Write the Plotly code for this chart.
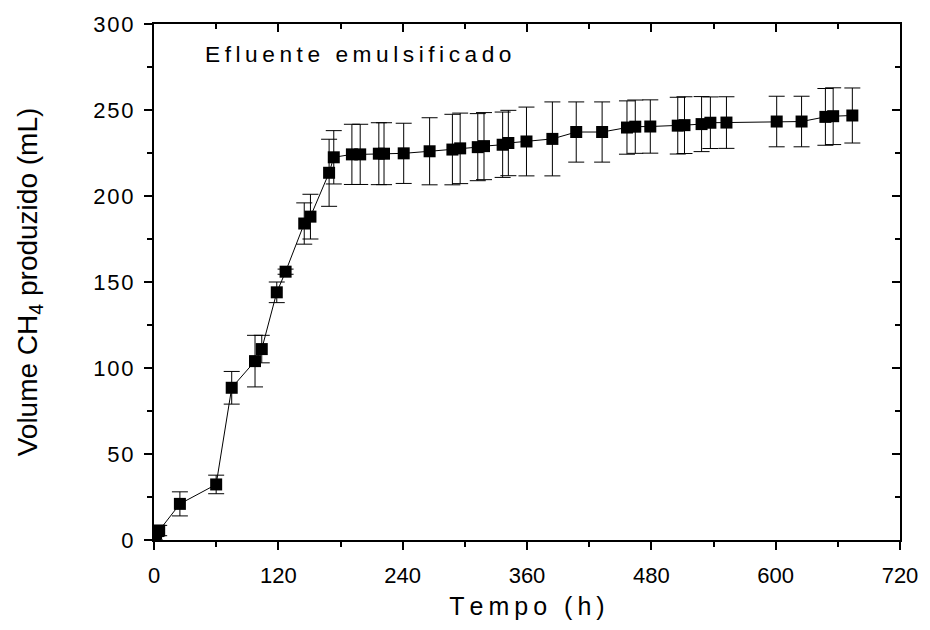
import plotly.graph_objects as go

# Cumulative methane production (mL) over time (h), mean ± standard deviation
tempo_h = [0, 1, 2, 5, 25, 60, 75, 97.5, 104, 118.5, 127, 145, 151, 169, 173.5,
           191, 199, 217, 222, 241, 266, 288, 295.5, 312.5, 318.5, 336.5, 342,
           359.5, 384.5, 407.5, 432.5, 456.5, 464.5, 479, 505.5, 512, 528.5,
           537, 552.5, 601, 625, 648, 655.5, 674]
volume_ch4 = [0, 1, 4, 5.5, 21, 32.3, 88.5, 104, 111, 144, 156, 184, 188, 213.5,
              222.5, 224.2, 224.2, 224.6, 224.6, 224.8, 226, 227, 227.7, 228.4,
              229, 229.8, 230.8, 231.7, 233.2, 237.2, 237.2, 239.8, 240.3, 240.4,
              240.9, 241.2, 241.8, 242.6, 242.7, 243.3, 243.3, 246, 246.4, 246.8]
desvio = [0.5, 1, 2, 3, 7, 5.4, 9.5, 15, 8, 6, 1.5, 12, 13, 19.5, 15.5,
          17.5, 17.5, 18, 18, 17.5, 19.5, 20.5, 20.5, 19.5, 19.5, 19, 19, 20,
          21.5, 17.5, 17.5, 15.5, 15.5, 15.5, 16.5, 16.5, 16, 15, 15, 14.7,
          14.7, 16.5, 16.5, 16]

x_ticks = [0, 120, 240, 360, 480, 600, 720]
y_ticks = [0, 50, 100, 150, 200, 250, 300]

FONT = "Liberation Sans, Arial, sans-serif"
THIN = "\u2009"
HAIR = "\u200a"


def spaced(s, gap=THIN):
    """Open up the letter spacing with narrow spaces between characters."""
    return gap.join(s)


fig = go.Figure()
fig.add_trace(go.Scatter(
    x=tempo_h, y=volume_ch4,
    mode="lines+markers",
    line=dict(color="black", width=1),
    marker=dict(symbol="square", size=12, color="black"),
    error_y=dict(type="data", array=desvio, visible=True,
                 color="black", thickness=1, width=8),
    showlegend=False,
))
# invisible trace to activate the mirrored axes (top / right, inward ticks)
fig.add_trace(go.Scatter(x=[0], y=[0], xaxis="x2", yaxis="y2",
                         mode="markers", marker=dict(opacity=0),
                         showlegend=False, hoverinfo="skip"))

axis_common = dict(showgrid=False, zeroline=False, showline=True,
                   linecolor="black", linewidth=2, ticklen=8, tickwidth=1.5,
                   tickcolor="black")

fig.update_layout(
    width=930, height=630,
    margin=dict(l=154, r=27, t=23, b=90),
    plot_bgcolor="white", paper_bgcolor="white",
    font=dict(family=FONT, color="black"),
    xaxis=dict(range=[0, 720], tickvals=x_ticks,
               ticktext=[str(v) for v in x_ticks], ticks="outside",
               tickfont=dict(size=22), ticklabelstandoff=7,
               title=dict(text=spaced("Tempo (h)"), font=dict(size=25),
                          standoff=10),
               minor=dict(dtick=60, ticks="outside", ticklen=5,
                          tickcolor="black", tickwidth=1.5),
               **axis_common),
    yaxis=dict(range=[0, 300], tickvals=y_ticks,
               ticktext=[spaced(str(v), HAIR) for v in y_ticks],
               ticks="outside", tickfont=dict(size=22), ticklabelstandoff=6,
               title=dict(text="Volume CH<sub>4</sub> produzido (mL)",
                          font=dict(size=28), standoff=47),
               minor=dict(dtick=25, ticks="outside", ticklen=5,
                          tickcolor="black", tickwidth=1.5),
               **axis_common),
    xaxis2=dict(range=[0, 720], overlaying="x", side="top",
                tickvals=x_ticks, ticks="inside", showticklabels=False,
                minor=dict(dtick=60, ticks="inside", ticklen=5,
                           tickcolor="black", tickwidth=1.5),
                **axis_common),
    yaxis2=dict(range=[0, 300], overlaying="y", side="right",
                tickvals=y_ticks, ticks="inside", showticklabels=False,
                minor=dict(dtick=25, ticks="inside", ticklen=5,
                           tickcolor="black", tickwidth=1.5),
                **axis_common),
    annotations=[dict(text=spaced("Efluente emulsificado"), x=0.066, y=0.942,
                      xref="paper", yref="paper", xanchor="left",
                      yanchor="middle", showarrow=False,
                      font=dict(size=22.7, family=FONT))],
)

fig.write_html("out.html")
